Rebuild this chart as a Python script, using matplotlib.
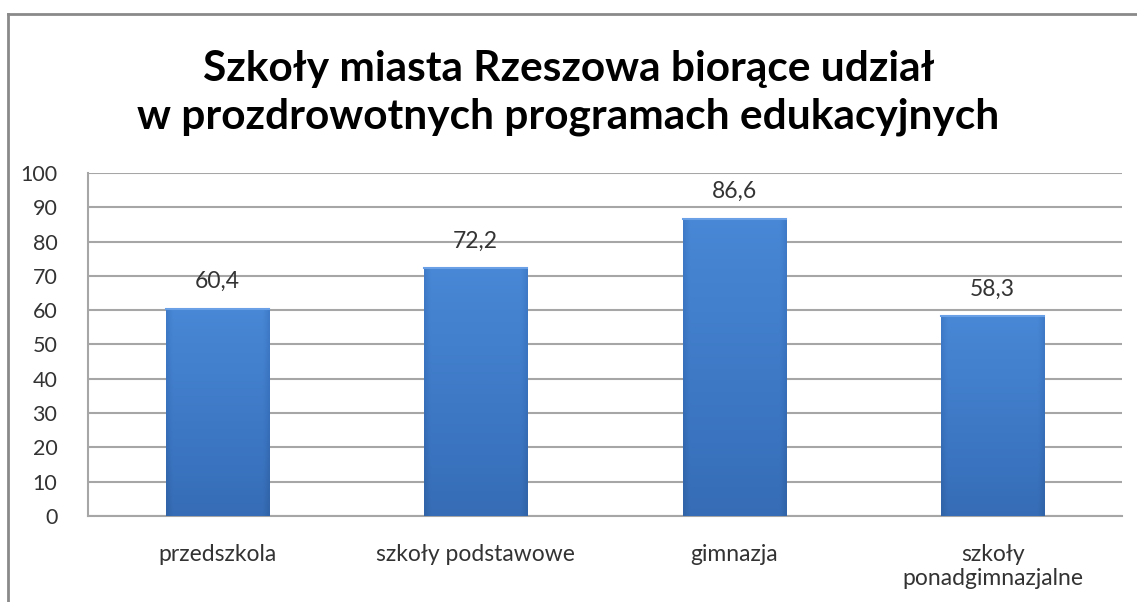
import numpy as np
import matplotlib
matplotlib.use("Agg")
from matplotlib import pyplot as plt
from matplotlib.lines import Line2D
from matplotlib.colors import LinearSegmentedColormap

categories = ["przedszkola", "szkoły podstawowe", "gimnazja", "szkoły\nponadgimnazjalne"]
values = [60.4, 72.2, 86.6, 58.3]
value_labels = ["60,4", "72,2", "86,6", "58,3"]
title = "Szkoły miasta Rzeszowa biorące udział\nw prozdrowotnych programach edukacyjnych"

plt.rcParams['font.family'] = ['Lato', 'DejaVu Sans']

fig = plt.figure(figsize=(11.37, 6.02), dpi=100)
ax = fig.add_axes([0.0774, 0.1429, 0.9094, 0.5697])

# outer frame (only top and left visible in the reference)
fig.add_artist(Line2D([0.007, 0.007], [0, 0.977], transform=fig.transFigure, color="#8a8a8a", lw=2))
fig.add_artist(Line2D([0.007, 1.0], [0.977, 0.977], transform=fig.transFigure, color="#8a8a8a", lw=2))

x = np.arange(len(categories))
bars = ax.bar(x, values, width=0.4, color="none", edgecolor="none", zorder=3)

# gradient fill: lighter at top, darker toward the bottom and the side edges
cmap = LinearSegmentedColormap.from_list("blu", ["#264f8a", "#3a74c0", "#4a8ad8"])
yy = np.linspace(0, 1, 200)[:, None]
xx = np.linspace(0, 1, 60)[None, :]
edge = np.clip(np.minimum(xx, 1 - xx) / 0.06, 0, 1)
for b in bars:
    x0, w, h = b.get_x(), b.get_width(), b.get_height()
    g = (0.4 + 0.55 * (1 - yy) ** 1.2) * (0.7 + 0.3 * edge)
    ax.imshow(g, cmap=cmap, vmin=0, vmax=1, origin="upper", aspect="auto",
              extent=(x0, x0 + w, 0, h), zorder=3, interpolation="bilinear")
    ax.plot([x0, x0 + w], [h, h], color="#6aa0e6", lw=1.5, zorder=4)

for xi, v, lab in zip(x, values, value_labels):
    ax.annotate(lab, (xi, v), xytext=(0, 12), textcoords="offset points",
                ha="center", va="bottom", fontsize=16.5, color="#333333")

ax.set_xlim(-0.5, len(categories) - 0.5)
ax.set_ylim(0, 100)
ax.set_yticks(np.arange(0, 101, 10))
ax.set_xticks(x)
ax.set_xticklabels(categories, fontsize=16.5, color="#333333", linespacing=1.2)
ax.tick_params(axis="y", labelsize=15.5, labelcolor="#333333", length=0, pad=22)
ax.tick_params(axis="x", length=0, pad=20)
ax.yaxis.grid(True, color="#a6a6a6", lw=1.5, zorder=0)
ax.set_axisbelow(True)
for s in ["top", "right"]:
    ax.spines[s].set_visible(False)
for s in ["left", "bottom"]:
    ax.spines[s].set_color("#a6a6a6")
    ax.spines[s].set_linewidth(1.5)

fig.text(0.5, 1 - 93 / 602, title, ha="center", va="center", fontsize=30.5,
         fontweight="bold", color="black", linespacing=1.3)

fig.savefig("out.png", dpi=100, facecolor="white")
